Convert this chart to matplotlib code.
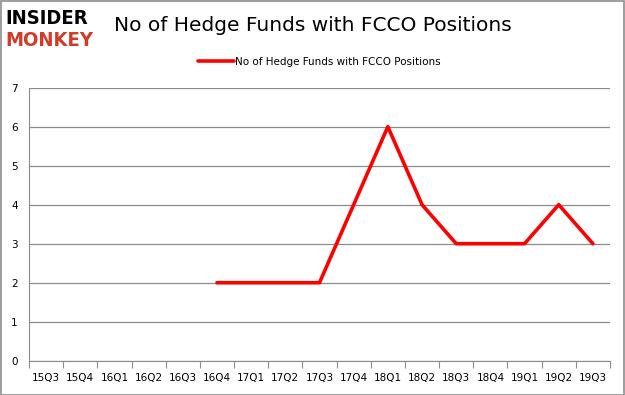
import matplotlib.pyplot as plt
import numpy as np

# data
quarters = ["15Q3", "15Q4", "16Q1", "16Q2", "16Q3", "16Q4", "17Q1", "17Q2", "17Q3",
            "17Q4", "18Q1", "18Q2", "18Q3", "18Q4", "19Q1", "19Q2", "19Q3"]
funds = [np.nan, np.nan, np.nan, np.nan, np.nan, 2, 2, 2, 2, 4, 6, 4, 3, 3, 3, 4, 3]
series_name = "No of Hedge Funds with FCCO Positions"

fig = plt.figure(figsize=(6.25, 3.95), dpi=100)
ax = fig.add_axes([0.0464, 0.0868, 0.9296, 0.6912])

x = np.arange(len(quarters))
ax.plot(x, funds, color="#ff0000", linewidth=2.6, label=series_name, solid_capstyle="round")

ax.set_xlim(-0.5, len(quarters) - 0.5)
ax.set_ylim(0, 7)
ax.set_yticks(range(0, 8))
ax.yaxis.grid(True, color="#8c8c8c", linewidth=0.9)
ax.set_axisbelow(True)

# tick marks between categories, labels at centres
ax.set_xticks(np.arange(-0.5, len(quarters), 1.0))
ax.set_xticklabels([])
ax.set_xticks(x, minor=True)
ax.set_xticklabels(quarters, minor=True, fontsize=7.5)
ax.tick_params(axis="x", which="major", length=5, color="#8c8c8c")
ax.tick_params(axis="x", which="minor", length=0, pad=9)
ax.tick_params(axis="y", length=0, labelsize=7.5, pad=8)

for s in ["top", "right"]:
    ax.spines[s].set_visible(False)
ax.spines["left"].set_color("#8c8c8c")
ax.spines["bottom"].set_color("#8c8c8c")

ax.legend(loc="center", bbox_to_anchor=(0.5, 1.095), frameon=False,
          fontsize=7.5, handlelength=3.5, handletextpad=0.1)

# title and logo
fig.text(0.5, 0.935, series_name, fontsize=14.5, va="center", ha="center")
fig.text(0.008, 0.953, "INSIDER", fontsize=14.5, fontweight="heavy", va="center",
         color="black", family="DejaVu Sans", stretch="condensed")
fig.text(0.008, 0.898, "MONKEY", fontsize=14.5, fontweight="heavy", va="center",
         color="#d13b27", family="DejaVu Sans", stretch="condensed")

# outer border
fig.patches.append(plt.Rectangle((0.001, 0.001), 0.998, 0.997, transform=fig.transFigure,
                                 fill=False, edgecolor="#8c8c8c", linewidth=1.2))

fig.savefig("out.png", dpi=100)
